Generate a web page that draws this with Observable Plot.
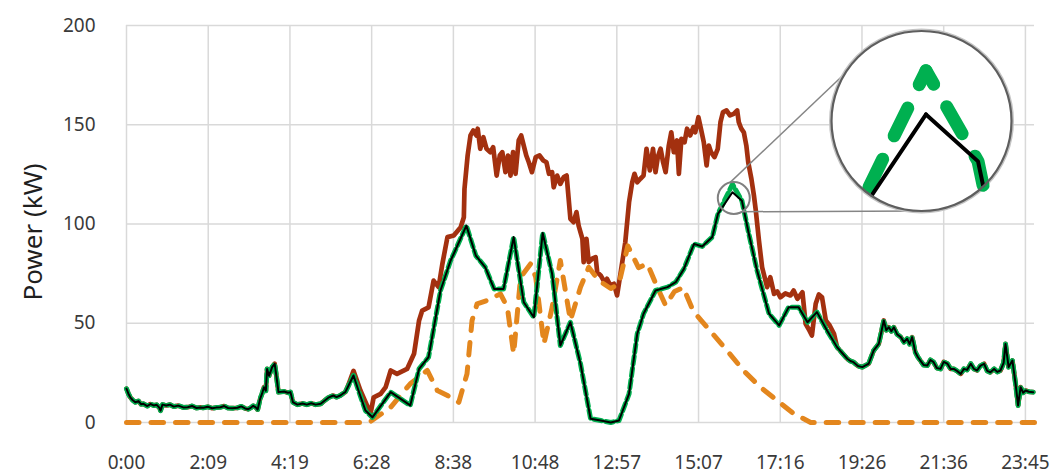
<!DOCTYPE html>
<html><head><meta charset="utf-8">
<script src="https://cdn.jsdelivr.net/npm/d3@7"></script>
<script src="https://cdn.jsdelivr.net/npm/@observablehq/plot@0.6"></script>
<style>html,body{margin:0;padding:0;background:#fff}#chart svg{display:block}</style>
</head><body><div id="chart"></div>
<script>
// ---------- DATA (time in minutes after midnight, power in kW) ----------
const xTickLabels = ["0:00","2:09","4:19","6:28","8:38","10:48","12:57","15:07","17:16","19:26","21:36","23:45"];
const xTickStepDays = 0.09; // Excel major unit
const yTicks = [0, 50, 100, 150, 200];

// red: total load
const loadSeries = [
[0,17],[3,14.5],[6,12.7],[10,11.2],[14,10.2],[19,10.8],[23,9.2],[27,9.4],[33,8.3],[38,9.3],[43,8.6],[48,8.9],[52,7.5],[54,6],[57,9],[63,8.6],[69,9],[75,8],[82,8.5],[90,7.6],[97,7.7],[104,8.3],[111,7.3],[117,7.6],[122,7.4],[129,7.9],[136,7.2],[142,7.5],[149,7.7],[155,8.3],[161,7.3],[168,7.2],[176,7.4],[182,8.1],[188,7.1],[193,6.7],[197,7.4],[201,8.4],[205,7.6],[208,6.5],[212,12],[215,14.5],[218,17.8],[221,16],[223,27],[226,23.5],[231,27.9],[235,29.6],[238,22.8],[241,15.3],[250,15.6],[256,15],[260,15.3],[264,10.2],[271,9],[279,9.6],[286,9],[293,9.7],[300,9],[308,9.4],[314,11],[320,12.5],[328,13.6],[333,12.8],[339,13.6],[343,14.5],[347,15.3],[352,19],
[360,26],[371,16.1],[387,4.5],[392,12.7],[403,14.4],[411,17.8],[419,26.2],[429,24.5],[445,27],[456,34.6],[464,51.4],[469,56.4],[479,58],[487,71.5],[495,68.2],[501,80],[509,93.4],[519,94.2],[530,98.4],[535,103.4],[536,117.7],[541,134.5],[545.5,144.6],[550,147.1],[555,144.6],[557,148],[561,137.9],[566,143.7],[571,137.9],[577,136.2],[581.5,138.7],[587,124.4],[592,134.5],[596,136.2],[601,126.1],[605,134.5],[609,124.4],[613,136.2],[617,125.3],[622,142.1],[626,144.6],[630,139.5],[634,134.5],[638,131.1],[643,126.1],[649,133.7],[655,134.5],[661,132],[666,131.1],[670,125.3],[675,126.1],[677.5,118.5],[683,124.4],[688,120.2],[693.5,123.6],[698,124.4],[701,113.5],[704,102.6],[709,100.9],[713.6,106],[717,99.2],[723,92.5],[725,80.8],[729.5,92.5],[733,80.8],[738.5,82.5],[744,83.3],[746.5,75.7],[752,74.1],[758,70.7],[762,72.4],[767.5,69],[773,69.9],[778,64],[783,74.1],[791,90.8],[797,111],[802,121],[805.6,125.3],[810,121],[815,122.8],[820,124.4],[824.7,137.9],[830,127],[835,137.9],[839,126.1],[842.6,133.7],[847,137.9],[851,131.1],[855,126.1],[860,139.5],[864,146.2],[868,136.2],[873,142.1],[876,125.3],[880,142.9],[885,141.2],[889,148],[894,144.6],[899,148.8],[902,146.2],[907,153.8],[911,148],[915.5,141.2],[920,129.5],[923.5,139.5],[927,136.2],[932.5,133.7],[937.7,137.9],[942,151.3],[946,156.4],[951.5,157.2],[957,154.7],[963,155.5],[968.5,157.2],[971,151.3],[975,148],[979,146.2],[983,139.5],[986,131.1],[991,122.8],[995,114.4],[998,106.8],[1003,91.7],[1008,78.2],[1016,68.2],[1021,73.2],[1027,64.8],[1032,66],[1037,63.1],[1045,65],[1053,64],[1058,66.5],[1064,62.3],[1072,65.6],[1077,49.7],[1082,47],[1087,43.8],[1093,59.8],[1098,64.5],[1103,63.1],[1109,51.4],[1115,49],[1122,44.7],
[1127,37.9],[1135,35],[1143,32.1],[1148,31],[1153,30.4],[1160,28.5],[1167,27.9],[1172,28.8],[1177,29.6],[1185,36.3],[1193,39.6],[1198,47],[1201,51.4],[1205,46.5],[1209,48],[1213,46],[1217,48],[1222,44.5],[1228,43],[1233,40.5],[1238,42.2],[1242,39.5],[1246,43],[1251,35.4],[1255,33],[1259,31.2],[1264,29],[1270,28.7],[1275,31.5],[1280,30.4],[1285,27.5],[1291,27],[1296,30.5],[1302,29.6],[1307,27],[1312,27],[1317,26],[1323,24.5],[1328,27],[1333,26.5],[1339,29.6],[1344,27],[1349,26.2],[1354,28.5],[1360,29.6],[1365,26],[1370,25.3],[1376,27],[1381,25.5],[1386,26.2],[1391,30],[1394,39.6],[1399,27.9],[1405,31.2],[1410,19.5],[1414,8.6],[1418,17.8],[1422,15],[1426,16.1],[1431,15.5],[1438,15.3]
];

// orange dashed: PV generation
const pvSeries = [
[0,0],[383,0],[387,0.5],[419,7.7],[450,19.5],[477,26.2],[493,16.1],[509,13.6],[527,10.2],[540,24.5],[548,51.4],[556,59.8],[572,61.5],[593,64.8],[604,58],[614,34.6],[625,73.2],[641,80],[649,73.2],[662,39.6],[675,58],[688,81.6],[704,51.4],[720,68.2],[733,78.2],[749,71.5],[768,67.5],[781,69.9],[795,89],[812,78],[826,80],[842,68],[855,59],[869,66],[883,68],[899,56],[926,46],[953,36],[979,26],[1006,17.6],[1032,11],[1058,4.5],[1085,0],[1440,0]
];

// black solid: net load
const netSeries = [
[0,17],[3,14.5],[6,12.7],[10,11.2],[14,10.2],[19,10.8],[23,9.2],[27,9.4],[33,8.3],[38,9.3],[43,8.6],[48,8.9],[52,7.5],[54,6],[57,9],[63,8.6],[69,9],[75,8],[82,8.5],[90,7.6],[97,7.7],[104,8.3],[111,7.3],[117,7.6],[122,7.4],[129,7.9],[136,7.2],[142,7.5],[149,7.7],[155,8.3],[161,7.3],[168,7.2],[176,7.4],[182,8.1],[188,7.1],[193,6.7],[197,7.4],[201,8.4],[205,7.6],[208,6.5],[212,12],[215,14.5],[218,17.8],[221,16],[223,27],[226,23.5],[231,27.9],[235,29.6],[238,22.8],[241,15.3],[250,15.6],[256,15],[260,15.3],[264,10.2],[271,9],[279,9.6],[286,9],[293,9.7],[300,9],[308,9.4],[314,11],[320,12.5],[328,13.6],[333,12.8],[339,13.6],[343,14.5],[347,15.3],[352,18.5],[360,23.7],[368,16],[379,6],[390,2.6],[419,15.3],[450,8.6],[464,27],[479,32.9],[498,66.5],[514,81.6],[519,85],[539,99.2],[554,84.1],[569,78.2],[583,67.3],[598,67.3],[614,93.4],[630,60.6],[646,53],[660,95.5],[675,74.9],[688,38.8],[704,50.5],[720,29.6],[736,1.9],[752,1],[768,0],[781,1],[797,14.4],[810,44.7],[820,54.8],[839,66.5],[858,68.2],[871,70.7],[884,77.4],[900,90],[913,88.7],[929,93.4],[938,105.1],[961,116],[976,111.7],[987,95],[1000,76.6],[1019,54.8],[1035,48.9],[1050,58],[1066,58],[1080,50.5],[1095,55.6],[1111,46.3],[1127,37.9],[1135,35],[1143,32.1],[1148,31],[1153,30.4],[1160,28.5],[1167,27.9],[1172,28.8],[1177,29.6],[1185,36.3],[1193,39.6],[1198,47],[1201,51.4],[1205,46.5],[1209,48],[1213,46],[1217,48],[1222,44.5],[1228,43],[1233,40.5],[1238,42.2],[1242,39.5],[1246,43],[1251,35.4],[1255,33],[1259,31.2],[1264,29],[1270,28.7],[1275,31.5],[1280,30.4],[1285,27.5],[1291,27],[1296,30.5],[1302,29.6],[1307,27],[1312,27],[1317,26],[1323,24.5],[1328,27],[1333,26.5],[1339,29.6],[1344,27],[1349,26.2],[1354,28.5],[1360,29.6],[1365,26],[1370,25.3],[1376,27],[1381,25.5],[1386,26.2],[1391,30],[1394,39.6],[1399,27.9],[1405,31.2],[1410,19.5],[1414,8.6],[1418,17.8],[1422,15],[1426,16.1],[1431,15.5],[1438,15.3]
];

// green dashed: net load (second estimate) — identical except near the 16:00 peak
const netAltSeries = [
[0,17],[3,14.5],[6,12.7],[10,11.2],[14,10.2],[19,10.8],[23,9.2],[27,9.4],[33,8.3],[38,9.3],[43,8.6],[48,8.9],[52,7.5],[54,6],[57,9],[63,8.6],[69,9],[75,8],[82,8.5],[90,7.6],[97,7.7],[104,8.3],[111,7.3],[117,7.6],[122,7.4],[129,7.9],[136,7.2],[142,7.5],[149,7.7],[155,8.3],[161,7.3],[168,7.2],[176,7.4],[182,8.1],[188,7.1],[193,6.7],[197,7.4],[201,8.4],[205,7.6],[208,6.5],[212,12],[215,14.5],[218,17.8],[221,16],[223,27],[226,23.5],[231,27.9],[235,29.6],[238,22.8],[241,15.3],[250,15.6],[256,15],[260,15.3],[264,10.2],[271,9],[279,9.6],[286,9],[293,9.7],[300,9],[308,9.4],[314,11],[320,12.5],[328,13.6],[333,12.8],[339,13.6],[343,14.5],[347,15.3],[352,18.5],[360,23.7],[368,16],[379,6],[390,2.6],[419,15.3],[450,8.6],[464,27],[479,32.9],[498,66.5],[514,81.6],[519,85],[539,99.2],[554,84.1],[569,78.2],[583,67.3],[598,67.3],[614,93.4],[630,60.6],[646,53],[660,95.5],[675,74.9],[688,38.8],[704,50.5],[720,29.6],[736,1.9],[752,1],[768,0],[781,1],[797,14.4],[810,44.7],[820,54.8],[839,66.5],[858,68.2],[871,70.7],[884,77.4],[900,90],[913,88.7],[929,93.4],[938,105.1],[961,120],[976,111.7],[987,95],[1000,76.6],[1019,54.8],[1035,48.9],[1050,58],[1066,58],[1080,50.5],[1095,55.6],[1111,46.3],[1127,37.9],[1135,35],[1143,32.1],[1148,31],[1153,30.4],[1160,28.5],[1167,27.9],[1172,28.8],[1177,29.6],[1185,36.3],[1193,39.6],[1198,47],[1201,51.4],[1205,46.5],[1209,48],[1213,46],[1217,48],[1222,44.5],[1228,43],[1233,40.5],[1238,42.2],[1242,39.5],[1246,43],[1251,35.4],[1255,33],[1259,31.2],[1264,29],[1270,28.7],[1275,31.5],[1280,30.4],[1285,27.5],[1291,27],[1296,30.5],[1302,29.6],[1307,27],[1312,27],[1317,26],[1323,24.5],[1328,27],[1333,26.5],[1339,29.6],[1344,27],[1349,26.2],[1354,28.5],[1360,29.6],[1365,26],[1370,25.3],[1376,27],[1381,25.5],[1386,26.2],[1391,30],[1394,39.6],[1399,27.9],[1405,31.2],[1410,19.5],[1414,8.6],[1418,17.8],[1422,15],[1426,16.1],[1431,15.5],[1438,15.3]
];

// ---------- LAYOUT ----------
const W = 1055, H = 473;
const M = {left: 126, right: 21, top: 25, bottom: 51};
const xDomain = [0, 1440], yDomain = [0, 200];
// magnifier (data units): source point, small ring, big lens
const mag = {srcT: 959.7, srcV: 115.4, smallT: 963.1, smallV: 113.1, bigT: 1260.8, bigV: 151.9,
             rSmall: 16, rBig: 90, zoom: 5.5, peakT: 961};

const xTickValues = xTickLabels.map((_, i) => i * xTickStepDays * 1440);
const labelOf = new Map(xTickValues.map((v, i) => [v, xTickLabels[i]]));

const toObj = s => s.map(([t, v]) => ({t, v}));
const load = toObj(loadSeries), pv = toObj(pvSeries), net = toObj(netSeries), netAlt = toObj(netAltSeries);

// scales mirroring the plot, used for the lens geometry
const SX = Plot.scale({x: {domain: xDomain, range: [M.left, W - M.right]}});
const SY = Plot.scale({y: {domain: yDomain, range: [H - M.bottom, M.top]}});
const lensCx = SX.apply(mag.bigT), lensCy = SY.apply(mag.bigV), lensR = mag.rBig - 1;

const magnify = d => ({t: mag.bigT + (d.t - mag.srcT) * mag.zoom, v: mag.bigV + (d.v - mag.srcV) * mag.zoom});

// walk outward from the peak, stopping where the path leaves the lens
function clipOutward(points) {
  const px = points.map(d => [SX.apply(d.t), SY.apply(d.v)]);
  const inside = p => (p[0] - lensCx) ** 2 + (p[1] - lensCy) ** 2 <= lensR * lensR;
  const out = [points[0]];
  for (let i = 1; i < px.length; i++) {
    if (inside(px[i])) { out.push(points[i]); continue; }
    const a = px[i - 1], b = px[i];
    const dx = b[0] - a[0], dy = b[1] - a[1];
    const fx = a[0] - lensCx, fy = a[1] - lensCy;
    const A = dx * dx + dy * dy, B = 2 * (fx * dx + fy * dy), C = fx * fx + fy * fy - lensR * lensR;
    const s = (-B + Math.sqrt(B * B - 4 * A * C)) / (2 * A);
    out.push({t: SX.invert(a[0] + s * dx), v: SY.invert(a[1] + s * dy)});
    break;
  }
  return out;
}
function lensHalves(series) {
  const left = series.filter(d => d.t <= mag.peakT).reverse().map(magnify);
  const right = series.filter(d => d.t >= mag.peakT).map(magnify);
  return [
    ...clipOutward(left).map(d => ({...d, side: "L"})),
    ...clipOutward(right).map(d => ({...d, side: "R"}))
  ];
}
const altMag = lensHalves(netAlt);
const netMag = lensHalves(net);

function ringPoint(t, v, r, deg) {
  const a = deg * Math.PI / 180;
  return [SX.invert(SX.apply(t) + r * Math.cos(a)), SY.invert(SY.apply(v) + r * Math.sin(a))];
}
const links = [
  [ringPoint(mag.smallT, mag.smallV, mag.rSmall, -103), ringPoint(mag.bigT, mag.bigV, mag.rBig, -148)],
  [ringPoint(mag.smallT, mag.smallV, mag.rSmall, 59), ringPoint(mag.bigT, mag.bigV, mag.rBig, 90)]
].map(([a, b]) => ({x1: a[0], y1: a[1], x2: b[0], y2: b[1]}));

const font = "'Noto Sans', 'Open Sans', sans-serif";

const chart = Plot.plot({
  width: W, height: H,
  marginLeft: M.left, marginRight: M.right, marginTop: M.top, marginBottom: M.bottom,
  x: {domain: xDomain, axis: null},
  y: {domain: yDomain, axis: null},
  style: {fontFamily: font, background: "#fff", overflow: "visible"},
  marks: [
    Plot.ruleY(yTicks, {stroke: "#d9d9d9", strokeWidth: 1.5}),
    Plot.ruleX(xTickValues, {stroke: "#d9d9d9", strokeWidth: 1.5}),
    Plot.axisY(yTicks, {tickSize: 0, tickPadding: 31, fontSize: 19, fill: "#3a3a3a", label: null}),
    Plot.axisX(xTickValues, {tickSize: 0, tickPadding: 33, fontSize: 19, fill: "#3a3a3a", label: null,
      tickFormat: d => labelOf.get(d)}),
    Plot.text(["Power (kW)"], {frameAnchor: "left", textAnchor: "middle", dx: -93, dy: 8, rotate: -90, fontSize: 26, fill: "#1f1f1f"}),
    Plot.line(load, {x: "t", y: "v", stroke: "#a3300f", strokeWidth: 4.7, strokeLinejoin: "round", strokeLinecap: "round"}),
    Plot.line(pv, {x: "t", y: "v", stroke: "#e3861d", strokeWidth: 5, strokeDasharray: "12.5 12", strokeLinecap: "round", strokeLinejoin: "round"}),
    Plot.line(netAlt, {x: "t", y: "v", stroke: "#00b050", strokeWidth: 5, strokeDasharray: "8 4", strokeLinejoin: "round"}),
    Plot.line(net, {x: "t", y: "v", stroke: "#000", strokeWidth: 2, strokeLinejoin: "round"}),
    Plot.dot([{t: mag.smallT, v: mag.smallV}], {x: "t", y: "v", r: mag.rSmall, stroke: "#808080", strokeWidth: 2, fill: "none"}),
    Plot.link(links, {x1: "x1", y1: "y1", x2: "x2", y2: "y2", stroke: "#858585", strokeWidth: 1.5}),
    Plot.dot([{t: mag.bigT, v: mag.bigV}], {x: "t", y: "v", r: mag.rBig + 1.5, stroke: "#c4c4c4", strokeWidth: 2, fill: "#fff"}),
    Plot.line(altMag, {x: "t", y: "v", z: "side", stroke: "#00b050", strokeWidth: 13, strokeDasharray: "31 26", strokeDashoffset: 15.5,
      strokeLinecap: "round"}),
    Plot.line(netMag, {x: "t", y: "v", z: "side", stroke: "#000", strokeWidth: 4, strokeLinejoin: "miter"}),
    Plot.dot([{t: mag.bigT, v: mag.bigV}], {x: "t", y: "v", r: mag.rBig, stroke: "#5e5e5e", strokeWidth: 2.2, fill: "none"})
  ]
});

document.getElementById("chart").appendChild(chart);
</script>
</body></html>
